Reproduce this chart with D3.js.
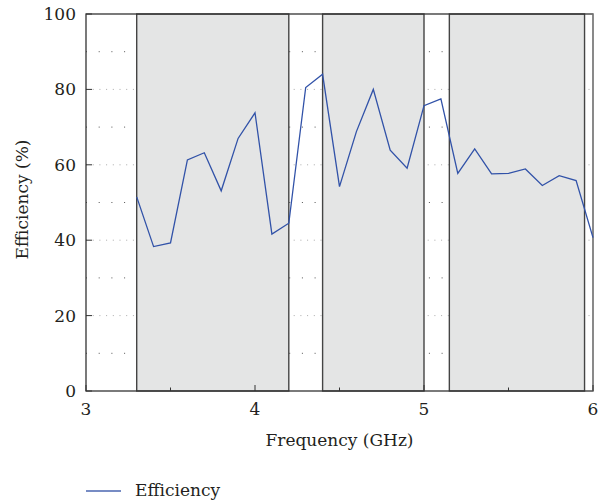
<!DOCTYPE html>
<html>
<head>
<meta charset="utf-8">
<script src="https://cdn.jsdelivr.net/npm/d3@7"></script>
<style>
	body { margin: 0; background: #fff; }
	svg text { fill: #231f20; }
</style>
</head>
<body>
<div id="chart"></div>
<script>
// frequency points (GHz) and measured efficiency (%)
var freq = [3.3, 3.4, 3.5, 3.6, 3.7, 3.8, 3.9, 4.0, 4.1, 4.2,
	4.3, 4.4, 4.5, 4.6, 4.7, 4.8, 4.9, 5.0, 5.1,
	5.2, 5.3, 5.4, 5.5, 5.6, 5.7, 5.8, 5.9, 6.0];
var efficiency = [51.5, 38.3, 39.3, 61.3, 63.2, 53.1, 67.0, 73.8, 41.6, 44.5,
	80.5, 84.0, 54.2, 68.8, 80.0, 63.9, 59.1, 75.7, 77.5,
	57.7, 64.2, 57.6, 57.7, 58.9, 54.5, 57.1, 55.8, 40.7];
// shaded bands (GHz)
var bandStart = [3.3, 4.4, 5.15];
var bandEnd = [4.2, 5.0, 5.95];
var xTicks = [3, 4, 5, 6];
var xMinor = [3.5, 4.5, 5.5];
var yTicks = [0, 20, 40, 60, 80, 100];
var yMinor = [10, 30, 50, 70, 90];

var W = 599, H = 504;
var pLeft = 86, pRight = 593, pTop = 14, pBottom = 391;
var font = "'DejaVu Serif', serif";

var svg = d3.select("#chart").append("svg")
	.attr("width", W)
	.attr("height", H)
	.attr("font-family", font);

var x = d3.scaleLinear().domain([3, 6]).range([pLeft, pRight]);
var y = d3.scaleLinear().domain([0, 100]).range([pBottom, pTop]);

// grid lines (dotted) - drawn first, bands cover them
svg.selectAll("line.gmaj").data(yTicks.filter(function (d) { return d > 0 && d < 100; }))
	.enter().append("line")
	.attr("class", "gmaj")
	.attr("x1", pLeft).attr("x2", pRight)
	.attr("y1", function (d) { return y(d); })
	.attr("y2", function (d) { return y(d); })
	.attr("stroke", "#aaa")
	.attr("stroke-width", 1)
	.attr("stroke-dasharray", "1,5.7");
svg.selectAll("line.gmin").data(yMinor)
	.enter().append("line")
	.attr("class", "gmin")
	.attr("x1", pLeft).attr("x2", pRight)
	.attr("y1", function (d) { return y(d); })
	.attr("y2", function (d) { return y(d); })
	.attr("stroke", "#555")
	.attr("stroke-width", 1)
	.attr("stroke-dasharray", "1,11.7");

// shaded bands
svg.selectAll("rect.band").data(bandStart)
	.enter().append("rect")
	.attr("class", "band")
	.attr("x", function (d) { return x(d); })
	.attr("y", pTop)
	.attr("width", function (d, i) { return x(bandEnd[i]) - x(d); })
	.attr("height", pBottom - pTop)
	.attr("fill", "#e4e5e5")
	.attr("stroke", "#444")
	.attr("stroke-width", 1.4);

// frame
svg.append("rect")
	.attr("x", pLeft).attr("y", pTop)
	.attr("width", pRight - pLeft).attr("height", pBottom - pTop)
	.attr("fill", "none")
	.attr("stroke", "#333")
	.attr("stroke-width", 1.3);
svg.append("line")
	.attr("x1", pRight).attr("x2", pRight)
	.attr("y1", pTop).attr("y2", pBottom)
	.attr("stroke", "#999").attr("stroke-width", 1);

// ticks inward
svg.selectAll("line.ytick").data(yTicks)
	.enter().append("line")
	.attr("class", "ytick")
	.attr("x1", pLeft).attr("x2", pLeft + 6)
	.attr("y1", function (d) { return y(d); })
	.attr("y2", function (d) { return y(d); })
	.attr("stroke", "#333");
svg.selectAll("line.xtick").data(xTicks)
	.enter().append("line")
	.attr("class", "xtick")
	.attr("x1", function (d) { return x(d); })
	.attr("x2", function (d) { return x(d); })
	.attr("y1", pBottom).attr("y2", pBottom - 6)
	.attr("stroke", "#333");
svg.selectAll("line.xminor").data(xMinor)
	.enter().append("line")
	.attr("class", "xminor")
	.attr("x1", function (d) { return x(d); })
	.attr("x2", function (d) { return x(d); })
	.attr("y1", pBottom).attr("y2", pBottom - 3.5)
	.attr("stroke", "#333");

// data line
var line = d3.line()
	.x(function (d, i) { return x(freq[i]); })
	.y(function (d) { return y(d); });
svg.append("path")
	.datum(efficiency)
	.attr("d", line)
	.attr("fill", "none")
	.attr("stroke", "#3152a8")
	.attr("stroke-width", 1.3)
	.attr("stroke-linejoin", "miter");

// axis labels
svg.selectAll("text.ylab").data(yTicks)
	.enter().append("text")
	.attr("class", "ylab")
	.attr("x", pLeft - 10)
	.attr("y", function (d) { return y(d) + 6; })
	.attr("text-anchor", "end")
	.attr("font-size", 17)
	.text(function (d) { return d; });
svg.selectAll("text.xlab").data(xTicks)
	.enter().append("text")
	.attr("class", "xlab")
	.attr("x", function (d) { return x(d); })
	.attr("y", pBottom + 24)
	.attr("text-anchor", "middle")
	.attr("font-size", 17)
	.text(function (d) { return d; });

svg.append("text")
	.attr("x", (pLeft + pRight) / 2)
	.attr("y", 446)
	.attr("text-anchor", "middle")
	.attr("font-size", 17)
	.text("Frequency (GHz)");
svg.append("text")
	.attr("transform", "translate(28," + ((pTop + pBottom) / 2 - 3) + ") rotate(-90)")
	.attr("text-anchor", "middle")
	.attr("font-size", 17)
	.text("Efficiency (%)");

// legend
svg.append("line")
	.attr("x1", 86).attr("x2", 121)
	.attr("y1", 491).attr("y2", 491)
	.attr("stroke", "#4a66b0")
	.attr("stroke-width", 1.3);
svg.append("text")
	.attr("x", 135)
	.attr("y", 496)
	.attr("font-size", 17)
	.text("Efficiency");
</script>
</body>
</html>
